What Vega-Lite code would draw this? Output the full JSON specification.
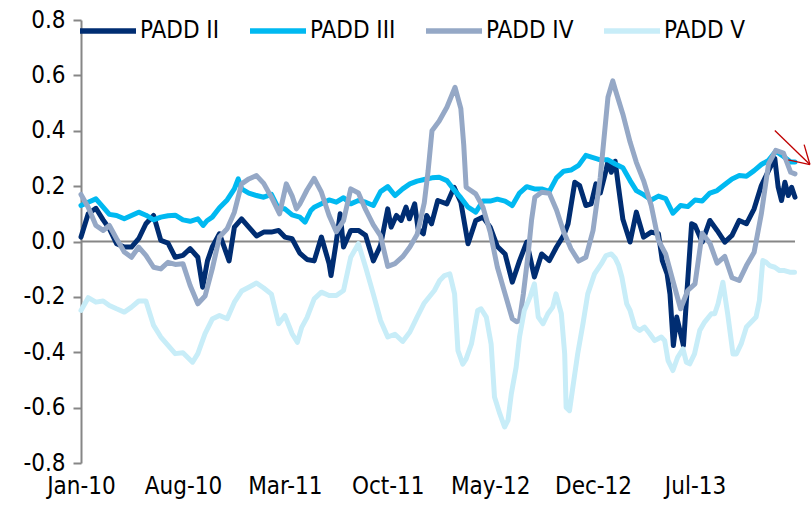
{
  "$schema": "https://vega.github.io/schema/vega-lite/v6.json",
  "width": 714,
  "height": 443,
  "autosize": {"type": "none"},
  "padding": {"left": 81, "top": 20, "right": 16, "bottom": 48},
  "background": "white",
  "config": {
    "view": {"stroke": null},
    "font": "DejaVu Sans Condensed, Liberation Sans, sans-serif",
    "axis": {"labelFont": "DejaVu Sans Condensed, Liberation Sans, sans-serif", "labelFontSize": 24, "labelColor": "#000000", "grid": false},
    "legend": {"labelFont": "DejaVu Sans Condensed, Liberation Sans, sans-serif", "labelFontSize": 24, "labelColor": "#000000"}
  },
  "datasets": {
    "p2": [
      {"d":"2010-01-01","v":0.016},{"d":"2010-01-16","v":0.10},{"d":"2010-02-01","v":0.12},{"d":"2010-02-16","v":0.078},{"d":"2010-03-01","v":0.046},{"d":"2010-03-16","v":-0.008},{"d":"2010-04-01","v":-0.02},{"d":"2010-04-16","v":-0.02},{"d":"2010-05-01","v":0.01},{"d":"2010-05-16","v":0.064},{"d":"2010-06-01","v":0.094},{"d":"2010-06-16","v":0.004},{"d":"2010-07-01","v":-0.006},{"d":"2010-07-16","v":-0.057},{"d":"2010-08-01","v":-0.05},{"d":"2010-08-16","v":-0.026},{"d":"2010-09-01","v":-0.057},{"d":"2010-09-11","v":-0.165},{"d":"2010-09-21","v":-0.07},{"d":"2010-10-01","v":-0.02},{"d":"2010-10-16","v":0.028},{"d":"2010-11-05","v":-0.07},{"d":"2010-11-16","v":0.052},{"d":"2010-12-01","v":0.082},{"d":"2010-12-16","v":0.052},
      {"d":"2011-01-01","v":0.02},{"d":"2011-01-16","v":0.034},{"d":"2011-02-01","v":0.034},{"d":"2011-02-16","v":0.04},{"d":"2011-03-01","v":0.016},{"d":"2011-03-16","v":0.01},{"d":"2011-04-01","v":-0.042},{"d":"2011-04-16","v":-0.065},{"d":"2011-05-01","v":-0.07},{"d":"2011-05-16","v":0.016},{"d":"2011-06-01","v":-0.08},{"d":"2011-06-05","v":-0.123},{"d":"2011-06-16","v":0.0},{"d":"2011-06-24","v":0.10},{"d":"2011-07-01","v":-0.02},{"d":"2011-07-16","v":0.04},{"d":"2011-08-01","v":0.04},{"d":"2011-08-16","v":0.022},{"d":"2011-09-01","v":-0.07},{"d":"2011-09-16","v":-0.014},{"d":"2011-10-01","v":0.118},{"d":"2011-10-08","v":0.052},{"d":"2011-10-19","v":0.094},{"d":"2011-10-29","v":0.076},{"d":"2011-11-08","v":0.124},{"d":"2011-11-15","v":0.082},{"d":"2011-11-26","v":0.136},{"d":"2011-12-03","v":0.046},{"d":"2011-12-14","v":0.028},{"d":"2011-12-21","v":0.094},{"d":"2011-12-31","v":0.064},
      {"d":"2012-01-13","v":0.148},{"d":"2012-02-01","v":0.136},{"d":"2012-02-16","v":0.196},{"d":"2012-03-01","v":0.142},{"d":"2012-03-16","v":-0.008},{"d":"2012-04-01","v":0.076},{"d":"2012-04-16","v":0.088},{"d":"2012-05-01","v":0.052},{"d":"2012-05-16","v":-0.018},{"d":"2012-06-01","v":-0.045},{"d":"2012-06-16","v":-0.147},{"d":"2012-07-01","v":-0.07},{"d":"2012-07-16","v":-0.002},{"d":"2012-08-01","v":-0.128},{"d":"2012-08-16","v":-0.045},{"d":"2012-09-01","v":-0.069},{"d":"2012-09-16","v":-0.02},{"d":"2012-10-01","v":0.022},{"d":"2012-10-10","v":0.064},{"d":"2012-10-24","v":0.214},{"d":"2012-11-03","v":0.202},{"d":"2012-11-16","v":0.13},{"d":"2012-11-27","v":0.136},{"d":"2012-12-07","v":0.208},{"d":"2012-12-16","v":0.175},{"d":"2012-12-28","v":0.257},
      {"d":"2013-01-01","v":0.29},{"d":"2013-01-08","v":0.25},{"d":"2013-01-16","v":0.29},{"d":"2013-01-23","v":0.196},{"d":"2013-02-01","v":0.08},{"d":"2013-02-16","v":-0.002},{"d":"2013-03-01","v":0.106},{"d":"2013-03-16","v":0.016},{"d":"2013-04-01","v":0.034},{"d":"2013-04-16","v":0.028},{"d":"2013-04-24","v":-0.069},{"d":"2013-05-04","v":-0.117},{"d":"2013-05-10","v":-0.19},{"d":"2013-05-17","v":-0.376},{"d":"2013-05-24","v":-0.273},{"d":"2013-06-07","v":-0.376},{"d":"2013-06-14","v":-0.189},{"d":"2013-06-24","v":0.064},{"d":"2013-07-01","v":0.058},{"d":"2013-07-16","v":-0.002},{"d":"2013-08-01","v":0.076},{"d":"2013-08-16","v":0.04},{"d":"2013-09-01","v":-0.002},{"d":"2013-09-16","v":0.022},{"d":"2013-10-01","v":0.076},{"d":"2013-10-16","v":0.064},{"d":"2013-11-01","v":0.118},{"d":"2013-11-16","v":0.202},{"d":"2013-12-01","v":0.256},{"d":"2013-12-14","v":0.30},{"d":"2013-12-21","v":0.196},{"d":"2013-12-28","v":0.148},{"d":"2014-01-04","v":0.214},{"d":"2014-01-11","v":0.166},{"d":"2014-01-18","v":0.196},{"d":"2014-01-25","v":0.16}
    ],
    "p3": [
      {"d":"2010-01-01","v":0.13},{"d":"2010-01-16","v":0.142},{"d":"2010-02-01","v":0.154},{"d":"2010-02-16","v":0.124},{"d":"2010-03-01","v":0.098},{"d":"2010-03-16","v":0.094},{"d":"2010-04-01","v":0.082},{"d":"2010-04-16","v":0.094},{"d":"2010-05-01","v":0.106},{"d":"2010-05-16","v":0.095},{"d":"2010-06-01","v":0.078},{"d":"2010-06-16","v":0.088},{"d":"2010-07-01","v":0.093},{"d":"2010-07-16","v":0.095},{"d":"2010-08-01","v":0.078},{"d":"2010-08-16","v":0.073},{"d":"2010-09-01","v":0.082},{"d":"2010-09-12","v":0.058},{"d":"2010-09-20","v":0.075},{"d":"2010-10-01","v":0.088},{"d":"2010-10-16","v":0.122},{"d":"2010-11-01","v":0.15},{"d":"2010-11-16","v":0.19},{"d":"2010-11-24","v":0.226},{"d":"2010-12-01","v":0.19},{"d":"2010-12-16","v":0.175},
      {"d":"2011-01-01","v":0.166},{"d":"2011-01-16","v":0.16},{"d":"2011-02-01","v":0.17},{"d":"2011-02-16","v":0.118},{"d":"2011-03-01","v":0.118},{"d":"2011-03-16","v":0.096},{"d":"2011-04-01","v":0.088},{"d":"2011-04-12","v":0.07},{"d":"2011-04-24","v":0.112},{"d":"2011-05-01","v":0.124},{"d":"2011-05-16","v":0.136},{"d":"2011-06-01","v":0.15},{"d":"2011-06-16","v":0.142},{"d":"2011-07-01","v":0.158},{"d":"2011-07-16","v":0.136},{"d":"2011-08-01","v":0.148},{"d":"2011-08-16","v":0.142},{"d":"2011-09-01","v":0.13},{"d":"2011-09-16","v":0.18},{"d":"2011-10-01","v":0.198},{"d":"2011-10-16","v":0.166},{"d":"2011-11-01","v":0.19},{"d":"2011-11-16","v":0.208},{"d":"2011-12-01","v":0.218},{"d":"2011-12-16","v":0.224},
      {"d":"2012-01-01","v":0.23},{"d":"2012-01-16","v":0.232},{"d":"2012-02-01","v":0.22},{"d":"2012-02-16","v":0.186},{"d":"2012-03-01","v":0.158},{"d":"2012-03-16","v":0.124},{"d":"2012-04-01","v":0.106},{"d":"2012-04-16","v":0.146},{"d":"2012-05-01","v":0.146},{"d":"2012-05-16","v":0.153},{"d":"2012-06-01","v":0.146},{"d":"2012-06-16","v":0.13},{"d":"2012-07-01","v":0.175},{"d":"2012-07-16","v":0.198},{"d":"2012-08-01","v":0.19},{"d":"2012-08-16","v":0.19},{"d":"2012-09-01","v":0.181},{"d":"2012-09-16","v":0.23},{"d":"2012-10-01","v":0.254},{"d":"2012-10-16","v":0.258},{"d":"2012-11-01","v":0.275},{"d":"2012-11-16","v":0.311},{"d":"2012-12-01","v":0.303},{"d":"2012-12-16","v":0.295},
      {"d":"2013-01-01","v":0.295},{"d":"2013-01-16","v":0.28},{"d":"2013-02-01","v":0.266},{"d":"2013-02-16","v":0.22},{"d":"2013-03-01","v":0.184},{"d":"2013-03-16","v":0.169},{"d":"2013-04-01","v":0.15},{"d":"2013-04-16","v":0.164},{"d":"2013-05-01","v":0.155},{"d":"2013-05-16","v":0.102},{"d":"2013-06-01","v":0.13},{"d":"2013-06-16","v":0.126},{"d":"2013-07-01","v":0.15},{"d":"2013-07-16","v":0.146},{"d":"2013-08-01","v":0.175},{"d":"2013-08-16","v":0.184},{"d":"2013-09-01","v":0.206},{"d":"2013-09-16","v":0.226},{"d":"2013-10-01","v":0.238},{"d":"2013-10-16","v":0.236},{"d":"2013-11-01","v":0.256},{"d":"2013-11-16","v":0.278},{"d":"2013-12-01","v":0.293},{"d":"2013-12-16","v":0.326},{"d":"2014-01-01","v":0.307},{"d":"2014-01-16","v":0.287},{"d":"2014-01-25","v":0.287}
    ],
    "p4": [
      {"d":"2010-01-01","v":0.17},{"d":"2010-01-16","v":0.124},{"d":"2010-02-01","v":0.058},{"d":"2010-02-16","v":0.04},{"d":"2010-03-01","v":0.058},{"d":"2010-03-16","v":0.01},{"d":"2010-04-01","v":-0.038},{"d":"2010-04-16","v":-0.057},{"d":"2010-05-01","v":-0.02},{"d":"2010-05-16","v":-0.05},{"d":"2010-06-01","v":-0.093},{"d":"2010-06-16","v":-0.099},{"d":"2010-07-01","v":-0.075},{"d":"2010-07-16","v":-0.083},{"d":"2010-08-01","v":-0.08},{"d":"2010-08-16","v":-0.159},{"d":"2010-09-01","v":-0.225},{"d":"2010-09-16","v":-0.197},{"d":"2010-10-01","v":-0.099},{"d":"2010-10-16","v":0.016},{"d":"2010-11-01","v":0.046},{"d":"2010-11-16","v":0.106},{"d":"2010-12-01","v":0.208},{"d":"2010-12-16","v":0.226},
      {"d":"2011-01-01","v":0.238},{"d":"2011-01-16","v":0.21},{"d":"2011-02-01","v":0.16},{"d":"2011-02-18","v":0.10},{"d":"2011-03-04","v":0.208},{"d":"2011-03-16","v":0.165},{"d":"2011-03-25","v":0.118},{"d":"2011-04-01","v":0.135},{"d":"2011-04-16","v":0.186},{"d":"2011-05-01","v":0.228},{"d":"2011-05-16","v":0.178},{"d":"2011-06-01","v":0.094},{"d":"2011-06-16","v":0.035},{"d":"2011-07-01","v":0.075},{"d":"2011-07-16","v":0.19},{"d":"2011-08-01","v":0.175},{"d":"2011-08-16","v":0.115},{"d":"2011-09-01","v":0.06},{"d":"2011-09-16","v":0.02},{"d":"2011-10-01","v":-0.09},{"d":"2011-10-16","v":-0.08},{"d":"2011-11-01","v":-0.055},{"d":"2011-11-16","v":-0.02},{"d":"2011-12-01","v":0.025},{"d":"2011-12-16","v":0.14},{"d":"2011-12-24","v":0.256},
      {"d":"2012-01-01","v":0.40},{"d":"2012-01-16","v":0.435},{"d":"2012-02-01","v":0.485},{"d":"2012-02-18","v":0.557},{"d":"2012-03-01","v":0.48},{"d":"2012-03-07","v":0.35},{"d":"2012-03-12","v":0.196},{"d":"2012-04-01","v":0.172},{"d":"2012-04-16","v":0.124},{"d":"2012-05-01","v":0.034},{"d":"2012-05-16","v":-0.093},{"d":"2012-06-01","v":-0.189},{"d":"2012-06-16","v":-0.279},{"d":"2012-06-25","v":-0.29},{"d":"2012-07-01","v":-0.285},{"d":"2012-07-09","v":-0.189},{"d":"2012-07-19","v":-0.045},{"d":"2012-07-26","v":0.076},{"d":"2012-08-02","v":0.16},{"d":"2012-08-16","v":0.178},{"d":"2012-09-01","v":0.174},{"d":"2012-09-16","v":0.114},{"d":"2012-10-01","v":0.034},{"d":"2012-10-16","v":-0.026},{"d":"2012-11-01","v":-0.071},{"d":"2012-11-16","v":-0.057},{"d":"2012-12-01","v":0.04},{"d":"2012-12-16","v":0.232},
      {"d":"2013-01-01","v":0.521},{"d":"2013-01-11","v":0.58},{"d":"2013-01-16","v":0.55},{"d":"2013-02-01","v":0.46},{"d":"2013-02-16","v":0.359},{"d":"2013-03-01","v":0.286},{"d":"2013-03-16","v":0.22},{"d":"2013-04-01","v":0.13},{"d":"2013-04-16","v":0.004},{"d":"2013-05-01","v":-0.045},{"d":"2013-05-16","v":-0.141},{"d":"2013-06-01","v":-0.243},{"d":"2013-06-16","v":-0.177},{"d":"2013-07-01","v":-0.153},{"d":"2013-07-16","v":0.03},{"d":"2013-08-01","v":-0.006},{"d":"2013-08-16","v":-0.078},{"d":"2013-09-01","v":-0.054},{"d":"2013-09-16","v":-0.131},{"d":"2013-10-01","v":-0.141},{"d":"2013-10-16","v":-0.087},{"d":"2013-11-01","v":-0.039},{"d":"2013-11-16","v":0.10},{"d":"2013-12-01","v":0.28},{"d":"2013-12-16","v":0.329},{"d":"2014-01-01","v":0.319},{"d":"2014-01-16","v":0.25},{"d":"2014-01-25","v":0.244}
    ],
    "p5": [
      {"d":"2010-01-01","v":-0.249},{"d":"2010-01-16","v":-0.203},{"d":"2010-02-01","v":-0.219},{"d":"2010-02-16","v":-0.215},{"d":"2010-03-01","v":-0.231},{"d":"2010-03-16","v":-0.243},{"d":"2010-04-01","v":-0.255},{"d":"2010-04-16","v":-0.237},{"d":"2010-05-01","v":-0.215},{"d":"2010-05-16","v":-0.215},{"d":"2010-06-01","v":-0.303},{"d":"2010-06-16","v":-0.345},{"d":"2010-07-01","v":-0.375},{"d":"2010-07-16","v":-0.405},{"d":"2010-08-01","v":-0.402},{"d":"2010-08-21","v":-0.436},{"d":"2010-09-01","v":-0.405},{"d":"2010-09-16","v":-0.333},{"d":"2010-10-01","v":-0.28},{"d":"2010-10-16","v":-0.267},{"d":"2010-11-01","v":-0.279},{"d":"2010-11-16","v":-0.219},{"d":"2010-12-01","v":-0.179},{"d":"2010-12-16","v":-0.165},
      {"d":"2011-01-01","v":-0.15},{"d":"2011-01-16","v":-0.168},{"d":"2011-02-01","v":-0.19},{"d":"2011-02-16","v":-0.297},{"d":"2011-03-01","v":-0.267},{"d":"2011-03-16","v":-0.333},{"d":"2011-03-27","v":-0.364},{"d":"2011-04-05","v":-0.31},{"d":"2011-04-16","v":-0.275},{"d":"2011-05-01","v":-0.207},{"d":"2011-05-16","v":-0.183},{"d":"2011-06-01","v":-0.195},{"d":"2011-06-16","v":-0.195},{"d":"2011-07-01","v":-0.177},{"d":"2011-07-16","v":-0.057},{"d":"2011-08-01","v":-0.008},{"d":"2011-08-16","v":-0.093},{"d":"2011-09-01","v":-0.19},{"d":"2011-09-16","v":-0.285},{"d":"2011-10-01","v":-0.345},{"d":"2011-10-16","v":-0.335},{"d":"2011-11-01","v":-0.361},{"d":"2011-11-16","v":-0.327},{"d":"2011-12-01","v":-0.273},{"d":"2011-12-16","v":-0.222},
      {"d":"2012-01-06","v":-0.177},{"d":"2012-01-17","v":-0.141},{"d":"2012-01-27","v":-0.123},{"d":"2012-02-07","v":-0.117},{"d":"2012-02-17","v":-0.189},{"d":"2012-02-24","v":-0.394},{"d":"2012-03-05","v":-0.443},{"d":"2012-03-12","v":-0.424},{"d":"2012-03-23","v":-0.37},{"d":"2012-04-05","v":-0.249},{"d":"2012-04-12","v":-0.243},{"d":"2012-04-23","v":-0.273},{"d":"2012-05-03","v":-0.37},{"d":"2012-05-10","v":-0.562},{"d":"2012-05-21","v":-0.622},{"d":"2012-05-31","v":-0.67},{"d":"2012-06-07","v":-0.646},{"d":"2012-06-14","v":-0.55},{"d":"2012-06-24","v":-0.454},{"d":"2012-07-01","v":-0.345},{"d":"2012-07-11","v":-0.249},{"d":"2012-07-23","v":-0.2},{"d":"2012-08-01","v":-0.153},{"d":"2012-08-09","v":-0.273},{"d":"2012-08-19","v":-0.297},{"d":"2012-08-29","v":-0.261},{"d":"2012-09-08","v":-0.237},{"d":"2012-09-15","v":-0.189},{"d":"2012-09-26","v":-0.261},{"d":"2012-10-03","v":-0.406},{"d":"2012-10-06","v":-0.599},{"d":"2012-10-13","v":-0.611},{"d":"2012-10-20","v":-0.526},{"d":"2012-10-30","v":-0.406},{"d":"2012-11-10","v":-0.297},{"d":"2012-11-20","v":-0.189},{"d":"2012-12-04","v":-0.117},{"d":"2012-12-18","v":-0.081},{"d":"2012-12-28","v":-0.051},
      {"d":"2013-01-08","v":-0.045},{"d":"2013-01-16","v":-0.06},{"d":"2013-01-23","v":-0.085},{"d":"2013-01-30","v":-0.129},{"d":"2013-02-09","v":-0.225},{"d":"2013-02-16","v":-0.249},{"d":"2013-02-26","v":-0.309},{"d":"2013-03-08","v":-0.321},{"d":"2013-03-18","v":-0.309},{"d":"2013-03-29","v":-0.333},{"d":"2013-04-08","v":-0.358},{"d":"2013-04-22","v":-0.345},{"d":"2013-04-29","v":-0.358},{"d":"2013-05-06","v":-0.43},{"d":"2013-05-16","v":-0.466},{"d":"2013-05-26","v":-0.418},{"d":"2013-06-06","v":-0.388},{"d":"2013-06-13","v":-0.436},{"d":"2013-06-20","v":-0.442},{"d":"2013-06-30","v":-0.406},{"d":"2013-07-11","v":-0.321},{"d":"2013-07-21","v":-0.291},{"d":"2013-08-04","v":-0.261},{"d":"2013-08-11","v":-0.261},{"d":"2013-08-18","v":-0.225},{"d":"2013-08-28","v":-0.147},{"d":"2013-09-07","v":-0.261},{"d":"2013-09-18","v":-0.406},{"d":"2013-09-25","v":-0.406},{"d":"2013-10-05","v":-0.37},{"d":"2013-10-16","v":-0.309},{"d":"2013-10-26","v":-0.291},{"d":"2013-11-05","v":-0.273},{"d":"2013-11-12","v":-0.213},{"d":"2013-11-19","v":-0.069},{"d":"2013-11-26","v":-0.075},{"d":"2013-12-03","v":-0.087},{"d":"2013-12-14","v":-0.093},{"d":"2013-12-24","v":-0.105},{"d":"2014-01-03","v":-0.105},{"d":"2014-01-14","v":-0.111},{"d":"2014-01-24","v":-0.111}
    ],
    "arrow": [
      {"d":"2013-12-14","v":0.401,"d2":"2014-02-25","v2":0.278},
      {"d":"2014-02-13","v":0.350,"d2":"2014-02-25","v2":0.278},
      {"d":"2014-01-11","v":0.295,"d2":"2014-02-25","v2":0.278}
    ]
  },
  "layer": [
    {
      "data": {"values": [{}]},
      "mark": {"type": "rule", "color": "#868686", "strokeWidth": 2},
      "encoding": {"y": {"datum": 0, "type": "quantitative"}}
    },
    {
      "data": {"name": "p2"},
      "mark": {"type": "line", "strokeWidth": 5, "strokeJoin": "round", "strokeCap": "round"},
      "encoding": {
        "x": {
          "field": "d", "type": "temporal",
          "scale": {"type": "utc", "domain": [{"year": 2010, "month": 1, "date": 1, "utc": true}, {"year": 2014, "month": 1, "date": 25, "utc": true}]},
          "axis": {
            "title": null, "format": "%b-%y", "domain": false, "ticks": false, "labelPadding": 11, "grid": false, "labelOverlap": false, "labelFlush": false,
            "values": [
              {"year": 2010, "month": 1, "date": 1, "utc": true},
              {"year": 2010, "month": 8, "date": 1, "utc": true},
              {"year": 2011, "month": 3, "date": 1, "utc": true},
              {"year": 2011, "month": 10, "date": 1, "utc": true},
              {"year": 2012, "month": 5, "date": 1, "utc": true},
              {"year": 2012, "month": 12, "date": 1, "utc": true},
              {"year": 2013, "month": 7, "date": 1, "utc": true}
            ]
          }
        },
        "y": {
          "field": "v", "type": "quantitative",
          "scale": {"domain": [-0.8, 0.8], "nice": false, "zero": false},
          "axis": {
            "title": null, "values": [-0.8, -0.6, -0.4, -0.2, 0, 0.2, 0.4, 0.6, 0.8],
            "domainColor": "#868686", "domainWidth": 2, "tickColor": "#868686", "tickWidth": 2, "tickSize": 8, "labelPadding": 8, "grid": false, "labelOverlap": false,
            "labelExpr": "datum.value < 0 ? '-' + format(-datum.value, '.1f') : format(datum.value, '.1f')"
          }
        },
        "color": {
          "datum": "PADD II",
          "scale": {"domain": ["PADD II", "PADD III", "PADD IV", "PADD V"], "range": ["#002D72", "#00B9F1", "#95A8C6", "#C8EDF8"]},
          "legend": {
            "orient": "none", "legendX": -4, "legendY": -20, "direction": "horizontal", "title": null,
            "symbolType": "stroke", "symbolSize": 3136, "symbolStrokeWidth": 5.5, "labelOffset": 1, "columnPadding": 19,
            "labelFontSize": 24, "labelBaseline": "middle"
          }
        }
      }
    },
    {
      "data": {"name": "p3"},
      "mark": {"type": "line", "strokeWidth": 5, "strokeJoin": "round", "strokeCap": "round"},
      "encoding": {
        "x": {"field": "d", "type": "temporal"},
        "y": {"field": "v", "type": "quantitative"},
        "color": {"datum": "PADD III"}
      }
    },
    {
      "data": {"name": "p4"},
      "mark": {"type": "line", "strokeWidth": 5, "strokeJoin": "round", "strokeCap": "round"},
      "encoding": {
        "x": {"field": "d", "type": "temporal"},
        "y": {"field": "v", "type": "quantitative"},
        "color": {"datum": "PADD IV"}
      }
    },
    {
      "data": {"name": "p5"},
      "mark": {"type": "line", "strokeWidth": 5, "strokeJoin": "round", "strokeCap": "round"},
      "encoding": {
        "x": {"field": "d", "type": "temporal"},
        "y": {"field": "v", "type": "quantitative"},
        "color": {"datum": "PADD V"}
      }
    },
    {
      "data": {"name": "arrow"},
      "mark": {"type": "rule", "color": "#C00000", "strokeWidth": 1.3},
      "encoding": {
        "x": {"field": "d", "type": "temporal"},
        "x2": {"field": "d2"},
        "y": {"field": "v", "type": "quantitative"},
        "y2": {"field": "v2"}
      }
    }
  ]
}
